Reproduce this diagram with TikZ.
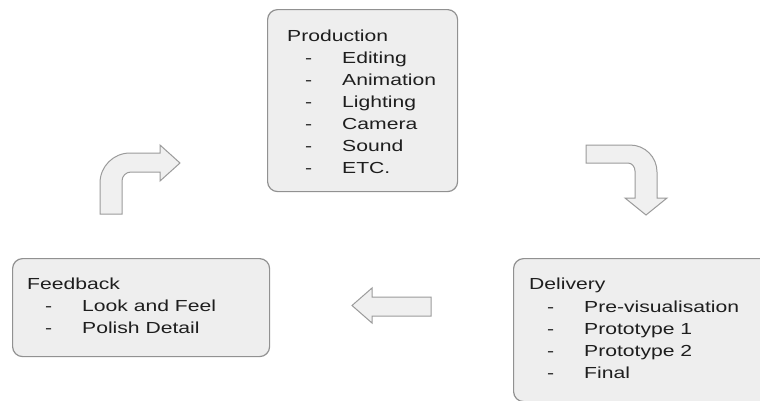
\documentclass[tikz,border=0pt]{standalone}
\usepackage{fontspec}
\setmainfont{Liberation Sans}
\usepackage{graphicx}
\newcommand{\sx}[1]{\scalebox{1.32}[1]{#1}}
\newcommand{\itemline}[1]{\makebox[37pt][l]{\sx{-}}\sx{#1}}
\definecolor{boxfill}{RGB}{238,238,238}
\definecolor{boxline}{RGB}{145,145,145}
\definecolor{arrfill}{RGB}{240,240,240}
\definecolor{arrline}{RGB}{155,155,155}
\definecolor{ink}{RGB}{30,30,30}
\begin{document}
\begin{tikzpicture}[x=1pt,y=-1pt,
  panel/.style={draw=boxline, fill=boxfill, line width=1.2pt, rounded corners=10pt, inner sep=0pt, anchor=north west},
  bent/.style={draw=arrline, fill=arrfill, line width=1pt, line join=miter},
  heading/.style={anchor=base west, inner sep=0pt, text=ink, font=\fontsize{16}{22}\selectfont},
  entry/.style={heading}]
\clip (0,0) rectangle (760,400);
\fill[white] (0,0) rectangle (760,400);

% boxes
\node[panel, minimum width=190pt, minimum height=182pt] (prod) at (267,9) {};
\node[panel, minimum width=257pt, minimum height=98pt] (feed) at (12,258) {};
\node[panel, minimum width=262pt, minimum height=143pt] (deliv) at (513,258) {};

% Production text
\node[heading] (prodh) at (287,41) {\sx{Production}};
\node[entry] (prod1) at (305,63) {\itemline{Editing}};
\node[entry] (prod2) at (305,85) {\itemline{Animation}};
\node[entry] (prod3) at (305,107) {\itemline{Lighting}};
\node[entry] (prod4) at (305,129) {\itemline{Camera}};
\node[entry] (prod5) at (305,151) {\itemline{Sound}};
\node[entry] (prod6) at (305,173) {\itemline{ETC.}};

% Feedback text
\node[heading] (feedh) at (27,289) {\sx{Feedback}};
\node[entry] (feed1) at (45,311) {\itemline{Look and Feel}};
\node[entry] (feed2) at (45,333) {\itemline{Polish Detail}};

% Delivery text
\node[heading] (delivh) at (529,289) {\sx{Delivery}};
\node[entry] (deliv1) at (547,312) {\itemline{Pre-visualisation}};
\node[entry] (deliv2) at (547,334) {\itemline{Prototype 1}};
\node[entry] (deliv3) at (547,356) {\itemline{Prototype 2}};
\node[entry] (deliv4) at (547,378) {\itemline{Final}};

% bent arrow up-right
\draw[bent] (100,214) -- (100,183) .. controls (100,166.4) and (113.4,153) .. (130,153)
  -- (160,153) -- (160,145) -- (180,163) -- (160,181) -- (160,172) -- (131,172)
  .. controls (126,172) and (122,176) .. (122,181) -- (122,214) -- cycle;

% bent arrow right-down
\draw[bent] (586,145) -- (630,145) .. controls (645,145) and (657,157) .. (657,172)
  -- (657,198) -- (667,198) -- (646,215) -- (625,198) -- (635,198) -- (635,171)
  .. controls (635,167) and (632,163) .. (628,163) -- (586,163) -- cycle;

% left arrow
\draw[bent] (431,297) -- (372,297) -- (372,288) -- (352,305.5) -- (372,323)
  -- (372,316) -- (431,316) -- cycle;
\end{tikzpicture}
\end{document}
